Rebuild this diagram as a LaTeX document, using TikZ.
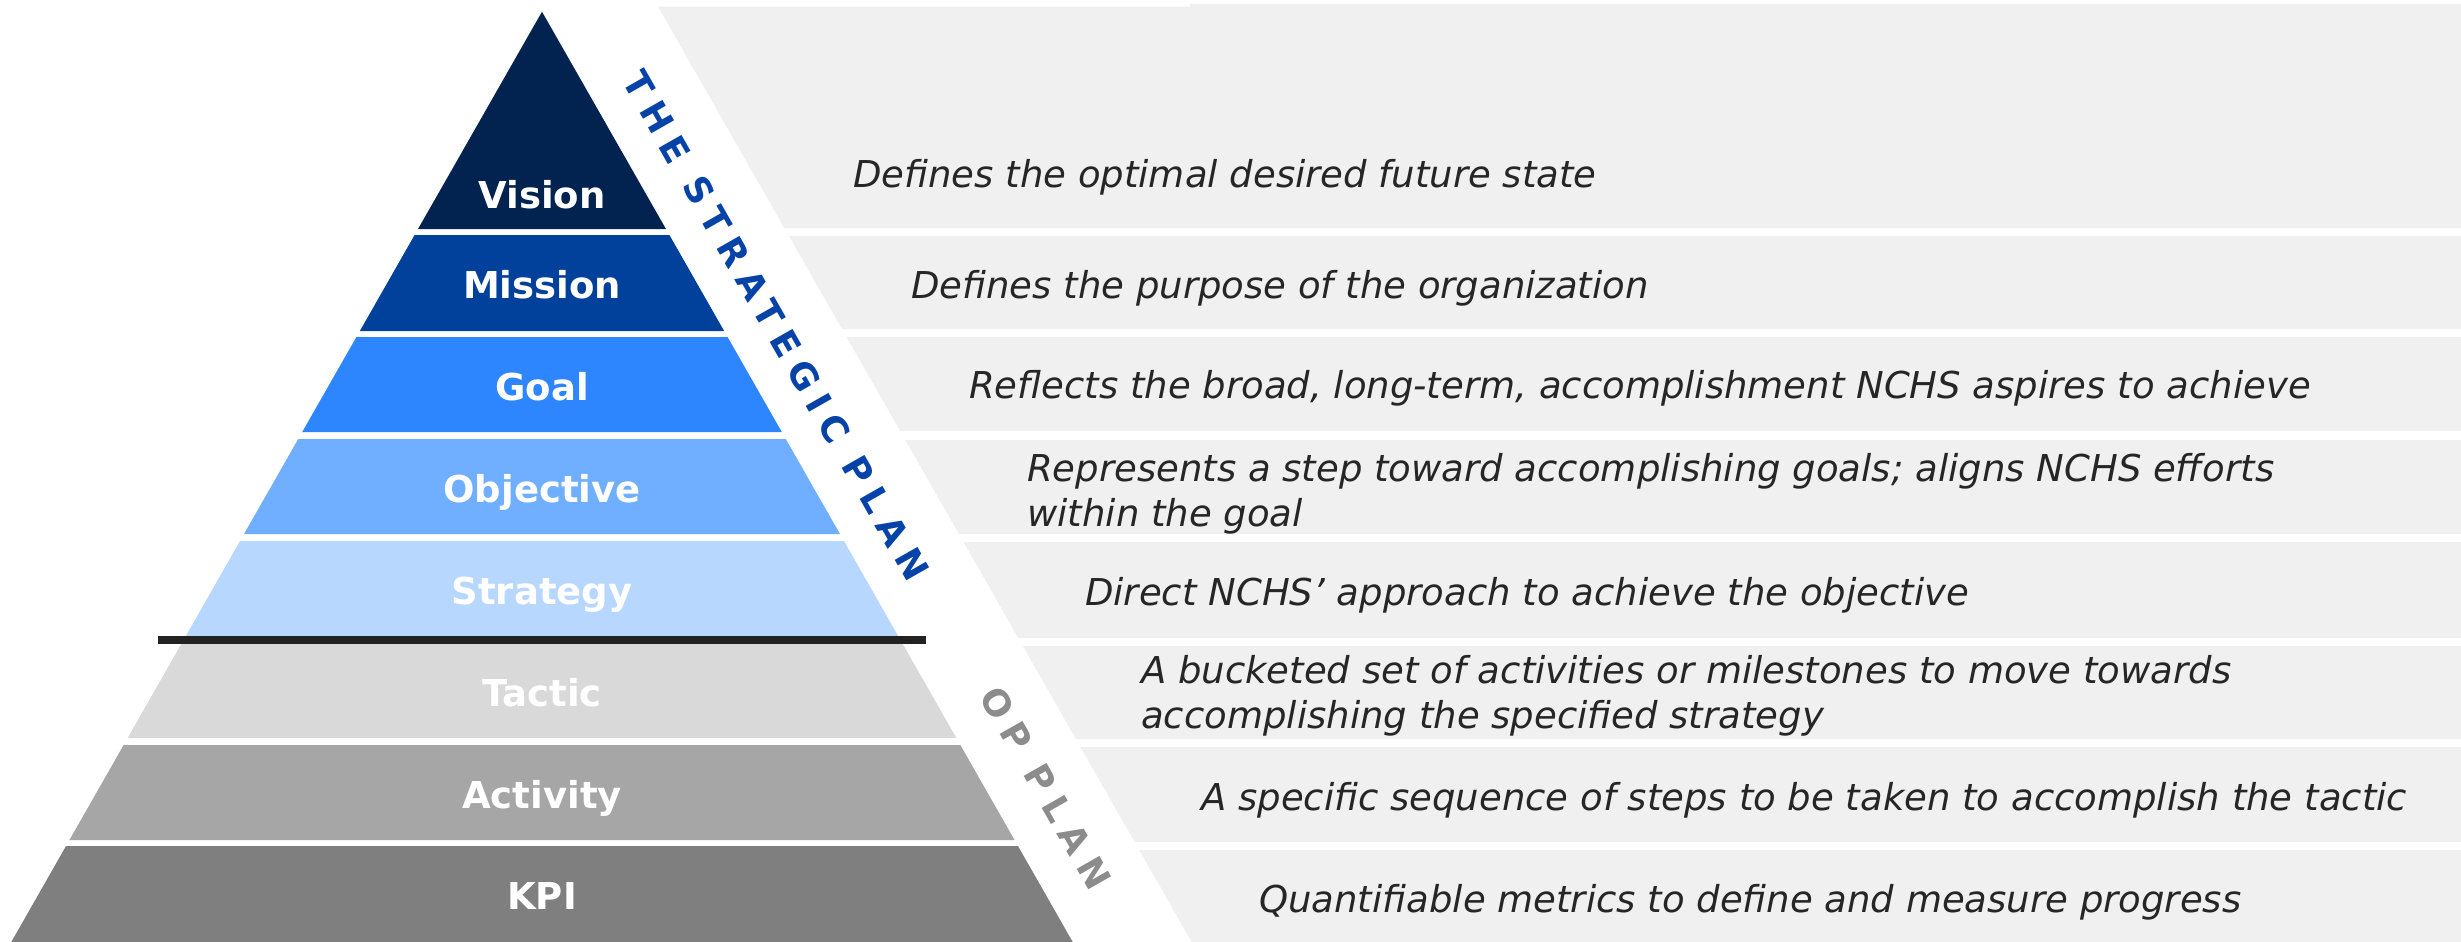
\documentclass[tikz,border=0pt]{standalone}
\usepackage{fontspec}
\setmainfont{DejaVu Sans}[ItalicFont={DejaVu Sans Oblique},BoldFont={DejaVu Sans Bold}]
\newfontfamily\trackfont{DejaVu Sans Bold}[LetterSpace=27]

\definecolor{cVision}{HTML}{02234F}
\definecolor{cMission}{HTML}{01419B}
\definecolor{cGoal}{HTML}{2E86FF}
\definecolor{cObjective}{HTML}{70AEFF}
\definecolor{cStrategy}{HTML}{B8D7FF}
\definecolor{cTactic}{HTML}{D9D9D9}
\definecolor{cActivity}{HTML}{A6A6A6}
\definecolor{cKPI}{HTML}{7F7F7F}
\definecolor{panelgray}{HTML}{F0F0F0}
\definecolor{desctext}{HTML}{262626}
\definecolor{stratblue}{HTML}{0543A8}
\definecolor{opgray}{HTML}{8C8C8C}
\definecolor{divider}{HTML}{222222}

% one horizontal slice of the pyramid: top y, bottom y, fill colour
\newcommand{\pyrband}[3]{%
  \pgfmathsetmacro\hwt{0.5705*(#1-11.7)}%
  \pgfmathsetmacro\hwb{0.5705*(#2-11.7)}%
  \fill[#3] ({542-\hwt},#1) -- ({542+\hwt},#1) -- ({542+\hwb},#2) -- ({542-\hwb},#2) -- cycle;}

% one grey description row, its left side parallel to the pyramid flank
\newcommand{\descpanel}[2]{%
  \pgfmathsetmacro\xt{661+0.5705*(#1-11.7)}%
  \pgfmathsetmacro\xb{661+0.5705*(#2-11.7)}%
  \fill[panelgray] ({\xt},#1) -- (2461,#1) -- (2461,#2) -- ({\xb},#2) -- cycle;}

\begin{document}
\begin{tikzpicture}[x=1pt,y=-1pt,
  lbl/.style={text=white, font=\fontsize{37}{44}\selectfont\bfseries, inner sep=0pt, anchor=base},
  desc/.style={text=desctext, font=\fontsize{37}{45}\selectfont\itshape, inner sep=0pt, anchor=base west, align=left},
  track/.style={font=\trackfont\fontsize{36}{36}\selectfont, inner sep=0pt}]

\fill[white] (0,0) rectangle (2461,942);
\useasboundingbox (0,0) rectangle (2461,942);

% description rows
\descpanel{6.7}{228}
\fill[panelgray] (1190,4) rectangle (2461,7);
\descpanel{236}{329}
\descpanel{337}{431}
\descpanel{440}{534}
\descpanel{542}{638}
\descpanel{646}{739}
\descpanel{747}{842}
\descpanel{850}{942}

% pyramid slices
\pyrband{11.7}{229}{cVision}
\pyrband{235}{331}{cMission}
\pyrband{337}{432}{cGoal}
\pyrband{439}{534}{cObjective}
\pyrband{541}{636}{cStrategy}
\pyrband{644}{738}{cTactic}
\pyrband{745}{840}{cActivity}
\pyrband{846}{942}{cKPI}

% divider between strategic and operational levels
\fill[divider] (158,636) rectangle (926,644);

% level names
\node[lbl] (lVision)    at (542,208.5) {Vision};
\node[lbl] (lMission)   at (542,298.5) {Mission};
\node[lbl] (lGoal)      at (542,400)   {Goal};
\node[lbl] (lObjective) at (542,502)   {Objective};
\node[lbl] (lStrategy)  at (542,604)   {Strategy};
\node[lbl] (lTactic)    at (542,706.5) {Tactic};
\node[lbl] (lActivity)  at (542,808)   {Activity};
\node[lbl] (lKPI)       at (542,909.5) {KPI};

% slanted plan captions
\node[track, text=stratblue, rotate=-60.3] (tsp) at (776,326) {THE STRATEGIC PLAN};
\node[track, text=opgray, rotate=-60.3]   (top) at (1046,788) {OP PLAN};

% descriptions (two-line ones are placed by the baseline of their last line)
\node[desc] (dVision)    at (853,187)  {Defines the optimal desired future state};
\node[desc] (dMission)   at (911,298)  {Defines the purpose of the organization};
\node[desc] (dGoal)      at (969,398)  {Reflects the broad, long-term, accomplishment NCHS aspires to achieve};
\node[desc] (dObjective) at (1027,526) {Represents a step toward accomplishing goals; aligns NCHS efforts\\within the goal};
\node[desc] (dStrategy)  at (1085,605) {Direct NCHS’ approach to achieve the objective};
\node[desc] (dTactic)    at (1141,728) {A bucketed set of activities or milestones to move towards\\accomplishing the specified strategy};
\node[desc] (dActivity)  at (1201,810) {A specific sequence of steps to be taken to accomplish the tactic};
\node[desc] (dKPI)       at (1259,912) {Quantifiable metrics to define and measure progress};
\end{tikzpicture}
\end{document}
